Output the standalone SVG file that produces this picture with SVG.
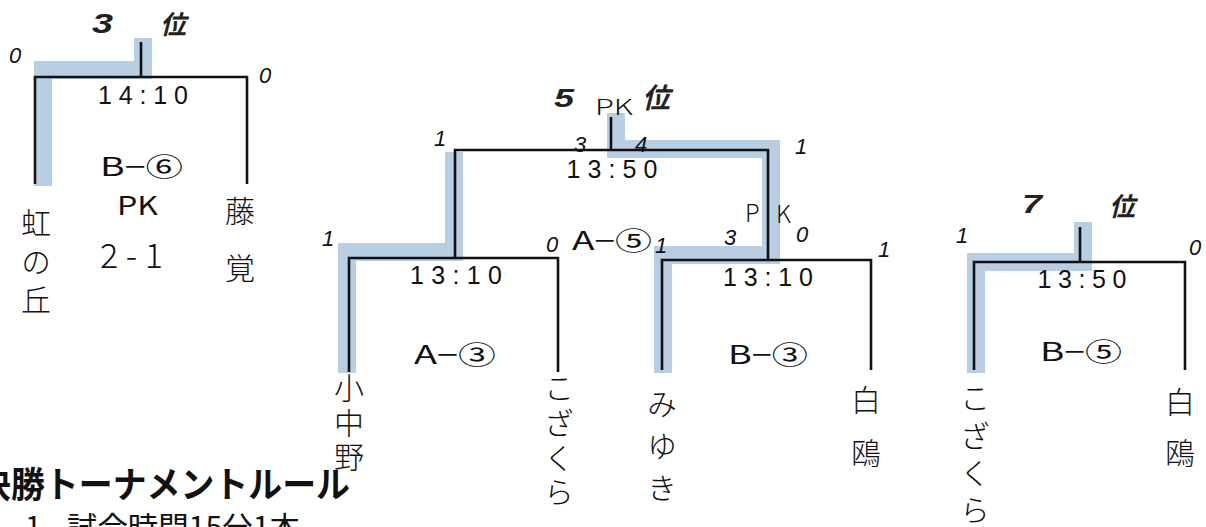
<svg xmlns="http://www.w3.org/2000/svg" width="1206" height="527" viewBox="0 0 1206 527">
<style>
.bg{fill:#ffffff}
.hl{fill:none;stroke:#a6c2dc;stroke-width:18;stroke-opacity:0.8;stroke-linejoin:miter}
.ln{fill:none;stroke:#111;stroke-width:2.6}
.rk{font-family:"Liberation Sans","Noto Sans CJK JP",sans-serif;font-weight:bold;font-style:italic;fill:#222}
.tm{font-family:"Liberation Sans","Noto Sans CJK JP",sans-serif;font-size:25px;fill:#111;text-anchor:middle}
.gm{font-family:"Noto Sans CJK JP",sans-serif;font-size:25px;fill:#111}
.hw{font-family:"Noto Sans CJK JP",sans-serif;font-weight:300;fill:#111}
.nm{font-family:"Noto Sans CJK JP",sans-serif;font-weight:300;font-size:30px;fill:#111;writing-mode:vertical-rl}
.sc{font-family:"Liberation Sans",sans-serif;font-style:italic;font-weight:300;font-size:22px;fill:#111;text-anchor:middle}
.ti{font-family:"Noto Sans CJK JP",sans-serif;font-weight:bold;font-size:36px;fill:#111}
.rl{font-family:"Noto Sans CJK JP",sans-serif;font-size:30px;fill:#111}
</style>
<rect class="bg" x="0" y="0" width="1206" height="527"/>

<g id="connectors">
  <path class="hl" d="M43 186 V70 H143 V38"/>
  <path class="hl" d="M347 373 V252 H454 V152"/>
  <path class="hl" d="M663 373 V255 H771 V149 H616 V113"/>
  <path class="hl" d="M976 373 V262 H1083 V222"/>
  <path class="ln" d="M35 184 V77 H247 V184 M141 42 V77"/>
  <path class="ln" d="M455 258 V150 H768 V260 M611 117 V150"/>
  <path class="ln" d="M349 372 V258 H558 V372"/>
  <path class="ln" d="M662 370 V260 H871 V370"/>
  <path class="ln" d="M974 370 V262 H1185 V370 M1080 227 V262"/>
</g>

<g id="rank3">
  <text class="rk" x="92" y="33" font-size="28" textLength="21" lengthAdjust="spacingAndGlyphs">3</text>
  <text class="rk" x="160" y="34" font-size="26">位</text>
</g>
<g id="match-3rd">
  <text class="tm" x="143" y="104" textLength="90" lengthAdjust="spacing">14:10</text>
  <text class="gm" x="100" y="176" textLength="83" lengthAdjust="spacingAndGlyphs">B−⑥</text>
  <text class="gm" x="117" y="215" textLength="41" lengthAdjust="spacingAndGlyphs">PK</text>
  <text class="hw" x="100" y="268" font-size="34" textLength="63" lengthAdjust="spacing">2-1</text>
  <text class="sc" x="15" y="63">0</text>
  <text class="sc" x="265" y="83">0</text>
</g>
<g id="team-nijinooka">
  <text class="nm" x="36" y="208" font-size="31" letter-spacing="8.5">虹の丘</text>
</g>
<g id="team-fujikaku">
  <text class="nm" x="240" y="196" font-size="38" letter-spacing="27">藤覚</text>
</g>

<g id="rank5">
  <text class="rk" x="554" y="107" font-size="26" textLength="20" lengthAdjust="spacingAndGlyphs">5</text>
  <text class="hw" x="595" y="115" font-size="22" textLength="38" lengthAdjust="spacingAndGlyphs">PK</text>
  <text class="rk" x="642" y="108" font-size="28">位</text>
</g>
<g id="match-5th">
  <text class="tm" x="612" y="178" textLength="91" lengthAdjust="spacing">13:50</text>
  <text class="sc" x="580" y="152">3</text>
  <text class="sc" x="641" y="152">4</text>
  <text class="sc" x="440" y="146">1</text>
  <text class="sc" x="801" y="154">1</text>
  <text class="sc" x="730" y="245" font-size="26">3</text>
  <text class="hw" x="745" y="222" font-size="24">P</text>
  <text class="hw" x="776" y="223" font-size="24">K</text>
  <text class="sc" x="802" y="242" font-size="24">0</text>
</g>
<g id="match-A5">
  <text class="gm" x="572" y="250" textLength="80" lengthAdjust="spacingAndGlyphs">A−⑤</text>
</g>
<g id="match-A3">
  <text class="tm" x="456" y="284" textLength="92" lengthAdjust="spacing">13:10</text>
  <text class="gm" x="414" y="364" textLength="82" lengthAdjust="spacingAndGlyphs">A−③</text>
  <text class="sc" x="328" y="246">1</text>
  <text class="sc" x="552" y="252">0</text>
</g>
<g id="match-B3">
  <text class="tm" x="768" y="286" textLength="90" lengthAdjust="spacing">13:10</text>
  <text class="gm" x="728" y="364" textLength="80" lengthAdjust="spacingAndGlyphs">B−③</text>
  <text class="sc" x="661" y="253">1</text>
  <text class="sc" x="884" y="257">1</text>
</g>
<g id="team-konakano">
  <text class="nm" x="349" y="373" letter-spacing="4.5">小中野</text>
</g>
<g id="team-kozakura-1">
  <text class="nm" x="559" y="373" letter-spacing="4.7">こざくら</text>
</g>
<g id="team-miyuki">
  <text class="nm" x="662" y="389" letter-spacing="12">みゆき</text>
</g>
<g id="team-hakuo-1">
  <text class="nm" x="866" y="385" letter-spacing="23">白鴎</text>
</g>

<g id="rank7">
  <text class="rk" x="1022" y="213" font-size="26" textLength="20" lengthAdjust="spacingAndGlyphs">7</text>
  <text class="rk" x="1109" y="216" font-size="26">位</text>
</g>
<g id="match-7th">
  <text class="tm" x="1082" y="288" textLength="89" lengthAdjust="spacing">13:50</text>
  <text class="gm" x="1040" y="361" textLength="82" lengthAdjust="spacingAndGlyphs">B−⑤</text>
  <text class="sc" x="962" y="243">1</text>
  <text class="sc" x="1195" y="255" font-size="24">0</text>
</g>
<g id="team-kozakura-2">
  <text class="nm" x="975" y="383" letter-spacing="7.3">こざくら</text>
</g>
<g id="team-hakuo-2">
  <text class="nm" x="1180" y="387" letter-spacing="21">白鴎</text>
</g>

<g id="rules">
  <text class="ti" x="-23" y="498" textLength="373" lengthAdjust="spacingAndGlyphs">決勝トーナメントルール</text>
  <text class="rl" x="25" y="538">1</text>
  <text class="rl" x="67" y="538" textLength="233" lengthAdjust="spacingAndGlyphs">試合時間15分1本</text>
</g>
</svg>
